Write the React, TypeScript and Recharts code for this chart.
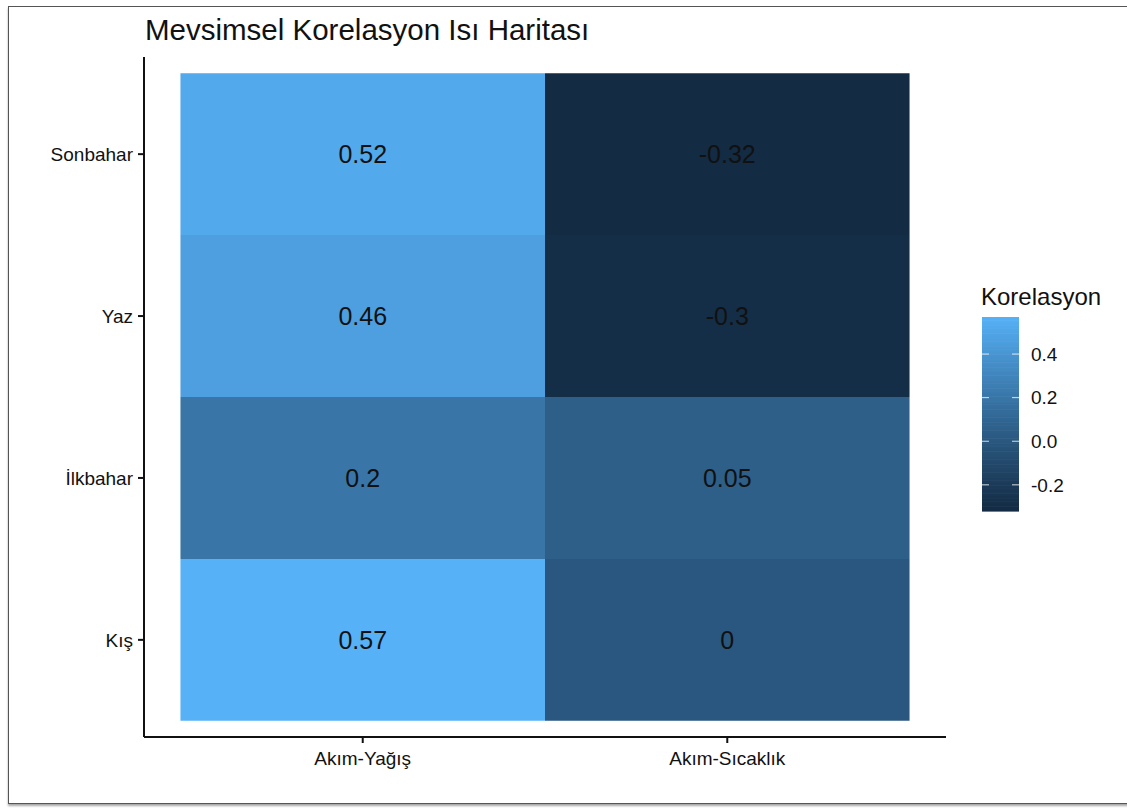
import React from "react";
import { ComposedChart, XAxis, YAxis, ReferenceArea, Scatter } from "recharts";

const variables = ["Akım-Yağış", "Akım-Sıcaklık"];
const seasons = ["Kış", "İlkbahar", "Yaz", "Sonbahar"];
const akimYagis = [0.57, 0.2, 0.46, 0.52];
const akimSicaklik = [0, 0.05, -0.3, -0.32];
const legendTicks = [0.4, 0.2, 0.0, -0.2];
const legendTickLabels = ["0.4", "0.2", "0.0", "-0.2"];

const FONT = "'Liberation Sans', Arial, Helvetica, sans-serif";
const LOW = "#132B43";
const HIGH = "#56B1F7";

const allVals = [...akimYagis, ...akimSicaklik];
const vMin = Math.min(...allVals);
const vMax = Math.max(...allVals);

// --- Lab interpolation (like scales::seq_gradient_pal) ---
function hexToRgb(h: string) {
  const n = parseInt(h.slice(1), 16);
  return [(n >> 16) & 255, (n >> 8) & 255, n & 255];
}
function srgbToLin(c: number) {
  c /= 255;
  return c <= 0.04045 ? c / 12.92 : Math.pow((c + 0.055) / 1.055, 2.4);
}
function linToSrgb(c: number) {
  const v = c <= 0.0031308 ? 12.92 * c : 1.055 * Math.pow(c, 1 / 2.4) - 0.055;
  return Math.max(0, Math.min(255, Math.round(v * 255)));
}
const Xn = 0.95047, Yn = 1.0, Zn = 1.08883;
function f(t: number) {
  return t > 216 / 24389 ? Math.cbrt(t) : (t * 24389) / 27 / 116 + 16 / 116;
}
function finv(t: number) {
  return t > 6 / 29 ? t * t * t : (3 * 36) / 841 * (t - 4 / 29);
}
function toLab(hex: string) {
  const [r, g, b] = hexToRgb(hex).map(srgbToLin);
  const X = 0.4124 * r + 0.3576 * g + 0.1805 * b;
  const Y = 0.2126 * r + 0.7152 * g + 0.0722 * b;
  const Z = 0.0193 * r + 0.1192 * g + 0.9505 * b;
  const fx = f(X / Xn), fy = f(Y / Yn), fz = f(Z / Zn);
  return [116 * fy - 16, 500 * (fx - fy), 200 * (fy - fz)];
}
function fromLab([L, a, bb]: number[]) {
  const fy = (L + 16) / 116;
  const fx = fy + a / 500;
  const fz = fy - bb / 200;
  const X = Xn * finv(fx), Y = Yn * finv(fy), Z = Zn * finv(fz);
  const r = 3.2406 * X - 1.5372 * Y - 0.4986 * Z;
  const g = -0.9689 * X + 1.8758 * Y + 0.0415 * Z;
  const b = 0.0557 * X - 0.204 * Y + 1.057 * Z;
  return `rgb(${linToSrgb(r)},${linToSrgb(g)},${linToSrgb(b)})`;
}
const labLow = toLab(LOW);
const labHigh = toLab(HIGH);
function colorFor(v: number) {
  const t = (v - vMin) / (vMax - vMin);
  return fromLab(labLow.map((l, i) => l + (labHigh[i] - l) * t));
}

const cells = seasons.flatMap((s, si) => [
  { x: 1, y: si + 1, v: akimYagis[si] },
  { x: 2, y: si + 1, v: akimSicaklik[si] },
]);

const XTick = (props: any) => {
  const { x, y, payload } = props;
  return (
    <g>
      <line x1={x} x2={x} y1={y - 8} y2={y - 2} stroke="#111" strokeWidth={2} />
      <text x={x} y={y + 20} textAnchor="middle" fontSize={19} fontFamily={FONT} fill="#111">
        {variables[payload.value - 1]}
      </text>
    </g>
  );
};

const YTick = (props: any) => {
  const { x, y, payload } = props;
  return (
    <g>
      <line x1={x + 2} x2={x + 8} y1={y} y2={y} stroke="#111" strokeWidth={2} />
      <text x={x - 3} y={y + 6.8} textAnchor="end" fontSize={19} fontFamily={FONT} fill="#111">
        {seasons[payload.value - 1]}
      </text>
    </g>
  );
};

function Legend() {
  const top = 317, bottom = 511, left = 982, w = 37;
  const h = bottom - top;
  const steps = 120;
  const yOf = (v: number) => bottom - ((v - vMin) / (vMax - vMin)) * h;
  const rects = [];
  for (let i = 0; i < steps; i++) {
    const v = vMax - ((i + 0.5) / steps) * (vMax - vMin);
    rects.push(
      <rect key={i} x={left} y={top + (i * h) / steps} width={w} height={h / steps + 0.6} fill={colorFor(v)} />
    );
  }
  return (
    <svg width={1127} height={811} style={{ position: "absolute", left: 0, top: 0, pointerEvents: "none" }}>
      <text x={981} y={305} fontSize={24} fontFamily={FONT} fill="#111">Korelasyon</text>
      {rects}
      {legendTicks.map((t, i) => (
        <g key={i}>
          <line x1={left} x2={left + 7} y1={yOf(t)} y2={yOf(t)} stroke="#fff" strokeOpacity={0.8} strokeWidth={1} />
          <line x1={left + w - 7} x2={left + w} y1={yOf(t)} y2={yOf(t)} stroke="#fff" strokeOpacity={0.8} strokeWidth={1} />
          <text x={1031} y={yOf(t) + 6.8} fontSize={19} fontFamily={FONT} fill="#111">{legendTickLabels[i]}</text>
        </g>
      ))}
    </svg>
  );
}

export default function App() {
  return (
    <div style={{ position: "absolute", left: 0, top: 0, width: 1127, height: 811, overflow: "hidden", background: "#fff" }}>
      <div
        style={{
          position: "absolute",
          left: 8,
          top: 6,
          width: 1140,
          height: 798,
          border: "1px solid #555",
          boxShadow: "0 2px 2px rgba(0,0,0,0.35)",
          boxSizing: "border-box",
        }}
      />
      <div style={{ position: "absolute", left: 145, top: 13, fontSize: 29.5, fontFamily: FONT, color: "#111", lineHeight: "34px", whiteSpace: "nowrap" }}>
        Mevsimsel Korelasyon Isı Haritası
      </div>
      <div style={{ position: "absolute", left: 0, top: 0 }}>
        <ComposedChart width={1127} height={811} margin={{ top: 57, right: 181, bottom: 34, left: 0 }}>
          <XAxis
            type="number"
            dataKey="x"
            domain={[0.4, 2.6]}
            ticks={[1, 2]}
            height={40}
            axisLine={{ stroke: "#111", strokeWidth: 2 }}
            tickLine={false}
            tick={<XTick />}
            allowDataOverflow
          />
          <YAxis
            type="number"
            dataKey="y"
            domain={[0.4, 4.6]}
            ticks={[1, 2, 3, 4]}
            width={144}
            axisLine={{ stroke: "#111", strokeWidth: 2 }}
            tickLine={false}
            tick={<YTick />}
            allowDataOverflow
          />
          {cells.map((c, i) => (
            <ReferenceArea
              key={i}
              x1={c.x - 0.5}
              x2={c.x + 0.5}
              y1={c.y - 0.5}
              y2={c.y + 0.5}
              fill={colorFor(c.v)}
              fillOpacity={1}
              stroke="none"
              ifOverflow="visible"
              label={{ value: String(c.v), position: "center", fontSize: 25, fontFamily: FONT, fill: "#111" }}
            />
          ))}
          <Scatter data={cells} dataKey="y" shape={() => null} isAnimationActive={false} />
        </ComposedChart>
      </div>
      <Legend />
    </div>
  );
}
